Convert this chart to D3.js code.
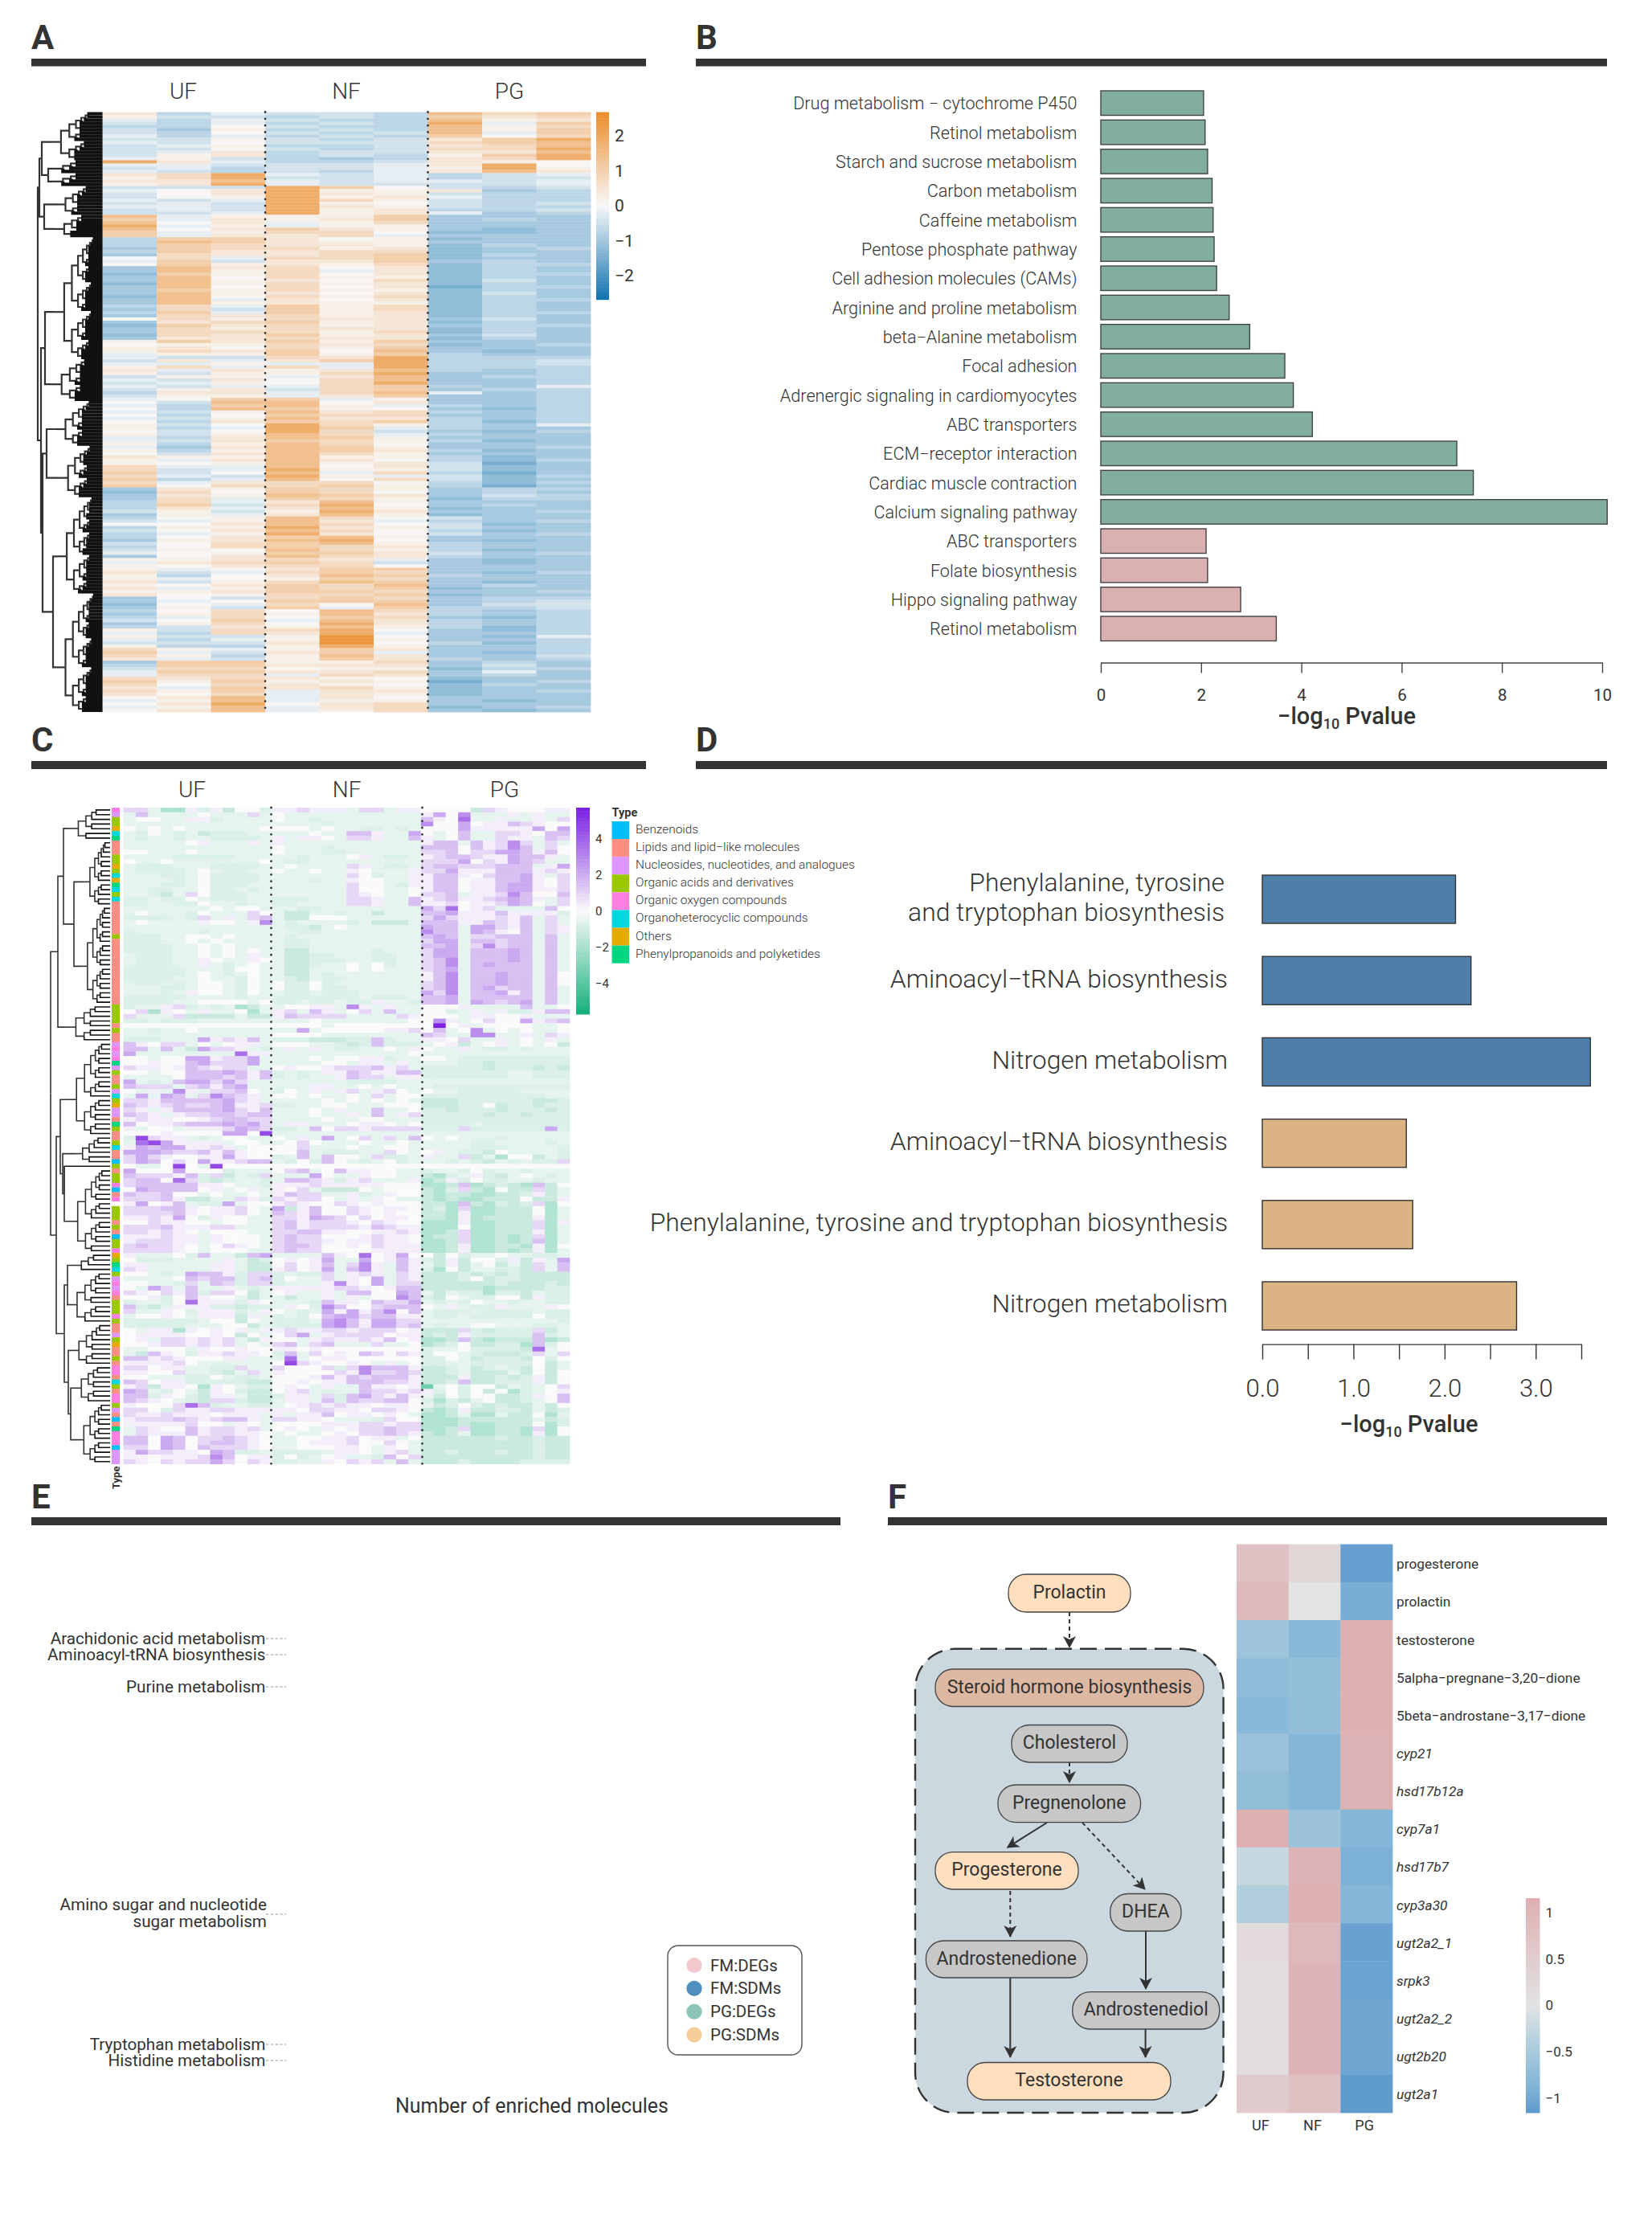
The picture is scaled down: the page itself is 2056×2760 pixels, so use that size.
<!DOCTYPE html>
<html>
<head>
<meta charset="utf-8">
<script src="https://d3js.org/d3.v7.min.js"></script>
<style>
  body { margin: 0; background: #fff; }
  text { font-family: Roboto, "Open Sans", sans-serif; fill: #333; }
</style>
</head>
<body>
<svg id="figure" width="2056" height="2760"></svg>
<script>
// ---- panel A: transcript heatmap, one string per row, one symbol per sample
const rnaGroups = ["UF", "NF", "PG"];
const rnaLevelKeys = ["f", "e", "d", "c", "b", "a", "0", "1", "2", "3", "4", "5", "6", "7"];
const rnaLevelValues = [-1.5, -1.2, -0.95, -0.7, -0.45, -0.2, 0.05, 0.2, 0.45, 0.75, 1.05, 1.4, 1.85, 2.4];
const rnaRows = `
2cabbc534 1bbcbc423 acabcc512 bcacbc6a4 cc0bcc513 bd1cbc514 bc0bcb5a4 acacbc403
bb1bcb246 ab0bbb345 ba1ccb235 bb0bcb336 ba2cbb225 b12cbc146 a1bcdc236 62accb210
aabbba260 bacbba161 abcbca252 236abacba 136bbacbb 225abaaba 126abbbba
bbb640bcb a026112dc b02621bcc b01612acc aba631bcc bab610bcb aab621bcc bab612ccb bba612adc
5a1114ddd 4a2124dcd 502a13ddd 6a1a11ddd 502421ded 4a1330eed 4a223addd
c44201edd c54211ddd c43221ecd d43312edc c42233edd d32234ecd 03a334edd a4b224dcd 041213ecc
d52302ecd d513a2ecd e41302ecc d50311ecd d51203ebd e51312ecd d50302fcc d41311ecd d51202ebd e50313ecd d5a202ecc d51211ecd
c3a413ecd d3b413ecd c4a412ecc
d32312ecd 031322dbd d23412ecd e42312dcc d31322ecd d33313ecd e32412dbd d22322ecd
142414ddd 011323edc 120314ddd 132405ded a11414cdd
abb326ccc b2a246ccb aa1aa6ccb 13a3a6ccc 2a2125cdc 1b1136ddc
b11a25dcc ab2035ddc ba1036ddc abaa34cda b12b34dcc c22a35adc b11a24ddc
a044a1ddc 0b5502ddc ac451acdc 0c5410dec
ab1523cdc 0c0433ddc ab1522cdc 0c2434cec
1b0631cda 1ca64acdd 0b063bdec 1b153acdd
ac2541ddd ab2431ced 1c1530ddd ad2541ddc 1c1542ced 0b2531ddd
211511ced 1a2520cec 101512bfd
3aa502bed 3ba611bed 4b05a3cfd 3ab61abec 4ca503bed
3a2330cec 403341cfd
d21431dcc e30430dcd d21542dbc d3a431ecc
c3a251ddd c4b360dcd c2a251edd b1b162ddc d1a251edd
c01530bdd ba152acdc 002530bed c11621bdd b02530ced ca1620bdc
c02451ddd d12560ded b03451cdd
c03432cdd b10531ced a01442bdc d02532cdd
11232aded a2343bded 102330ddd
1a0244ddd 2ba343dec 1c0254cdd 1a0143ddd 2b1354ded
102435dcd 2a1434edd 112443ddc 201334edd
d0b343dcc da0444dcb e0a305dbb d1b4a4ccb
c03053cdc d13152cdc ca3043dec b04a52cdc d13062cdc cb2151cec
1b3360dec ac326addc 1bb170dea aca171ddc bbb270cec 1cc161ddc
31a142ddc 4ab24adec 31c152ddb 2ab142cdc
d44113dcd c44222dbd b33011ecc a44223dad a33a32dcd
323210edd 414121fdc 303210ecd 2a4231edd 314a22edc 203a21edd
025a20ddd a15a11ded 026023ddd a15a23edc 025a13ded
`.trim().split(/\s+/);
const rnaScaleTicks = [-2, -1, 0, 1, 2];
// tree: [join position, child, child]; a bare number is a bunch of that many rows
const rnaTree = [47,
  [49,
    [52, [63, 15], [60, [66, 4], [66, 4]]],
    [55, [70, 9], [68, 7]]],
  [51,
    [56, [68, 38], [64, 13]],
    [53,
      [58, [70, 14], [74, 16]],
      [66, [72, 30], [70, 37]]]]];

// ---- panel B
const pathwaysB = ["Drug metabolism − cytochrome P450", "Retinol metabolism", "Starch and sucrose metabolism",
  "Carbon metabolism", "Caffeine metabolism", "Pentose phosphate pathway", "Cell adhesion molecules (CAMs)",
  "Arginine and proline metabolism", "beta−Alanine metabolism", "Focal adhesion",
  "Adrenergic signaling in cardiomyocytes", "ABC transporters", "ECM−receptor interaction",
  "Cardiac muscle contraction", "Calcium signaling pathway", "ABC transporters", "Folate biosynthesis",
  "Hippo signaling pathway", "Retinol metabolism"];
const pvaluesB = [2.05, 2.08, 2.13, 2.22, 2.24, 2.26, 2.31, 2.56, 2.97, 3.67, 3.84, 4.22, 7.10, 7.43, 10.10, 2.10, 2.13, 2.79, 3.50];
const tealBarsB = 15;
const ticksB = [0, 2, 4, 6, 8, 10];

// ---- panel C: metabolite heatmap, 12 samples per group
const metaboliteGroups = ["UF", "NF", "PG"];
const metaLevelKeys = ["f", "e", "d", "c", "b", "a", "0", "1", "2", "3", "4", "5", "6", "7", "8"];
const metaLevelValues = [-3.4, -2.6, -1.8, -1.2, -0.8, -0.5, 0, 0.3, 0.9, 1.5, 2.1, 2.8, 3.6, 4.6, 5.6];
const metaRows = `
22add1b1c00b112111a22a110000c2100011 a3aaaa0aaa2a0aaaaaaaaaaa1405aaa1a1aa a00aa11baaaa0aabaaaaaaaa3106aa1aa1a2
aaaaaaaaaaaaaaaabaaaaaaa500401132100 0a0a0aaaaaa0000a0aabbaba000411111404 ab0abacbbbaaaaa0aa331aa40a03aa221033
abaabaabbbba1a110a221aa31a03aa211a32 aaaaa01aaa1a1aaaaaaaaaaa133a31252a2a aaaaaaaaaaaa0aaabaaaaaaa333031253a20
00aaa0aaaaaa0aaabbaaaaaa223022443130 aaaabbbbbaaaaabaaa01abba12332114331a 0aa0aaaaaaa0abbaaaaaaaaa2224021432aa
abbbaaabbbbaa0aaaa21abba233222333a14 abbbba0abbaa0aa0aa10aaa1224111333121 aaabba0bbbbaaaaaaa20baa11331023341a2
aaaaba0bbbbaaaabaa100aa1133011334102 aaabba0bbbaaaaaaaa200ab1133011344102 aabbaa0bbabaaaaaaa200aa0133011344112
aabca20bbbaaaaaaaa210aa0223a11253003 bbabb0abbbaabbbaaa221aa31231123431a2 bbaabb0aabaabbaaaa221aa31120112430a2
aaaaaaa0a00aaabbaaaaaaaa426012aaaa30 a0aaab0aaa20accaabaacaaa33411131111b bbbbab2a1a23acc000aaaaaa242111213a2a
a0aaaa100a15abaaaabaccca333113213a2a aaaaaaaaaaaaabbca0aaaaaa433a44213a21 baaaaabaaaaaaabbaaaaaaaa533a43103a21
bbbaa00a0aaaabaaaaaaaaaa343a22333a3a bbbaa0a0aaaaabbaaaaaaaaa244a33233a3a bbbbaa0a0aaaabbaaaaaaaaa334a25233a3a
bbbbaa0a0a0aaccaaaaabaaa244a33343a3a abbbaa0a0a1aaccbbaaabbaa244a33343a3a abbbaa10aa10accbbbaabbaa235a33343a3a
abbbaa1aba0aaccbaa0a0baa235a34333a3a bbbbbaaab00aaccaaa0a0aaa234a33333a3a bbbbba0aba0aaccabaaaaaaa135a33433a30
bbbbaa0aab0aabcabbaaaaaa135a33433a30 abbaba00ab0a0bb0baaaaaaa235a33433a30 aaabba00ab0a0bb0bbaaaaaa235a34233a3a
aaaba100ab0aabbabbbaaaaa425a33413a3a bbbbbaaaabaabbbbbbbabbba334a33333a3a bbbbaa0000a0bbabbabb1aab334a43234a3a
baa12babadcaa0011a51a1aa0001aaaa3aa0 02d10a1aa0da12a31a02a3aa00ba1a1bb133 2aaa2ccccacc132222aaaa21000a11001aaa
bbabbbaaaaaaaaa0aaaaaaa0051a02004123 0000000000000000a00000000801a0000aa0 aabaa0aaaaaaaa4a0000011203a05a0a0aa0
aaaaaaaaaaaa0000aaaaaaaa32aa55aa1a21 bbbaaa41213abbbcccbb3baa1102aa1a0a1a 31022a0a011a000aabcb3bbba01ca01a0a0c
33a3ac4221aba1a1abbaa0a10aa1abbabaaa 4aaaaaaaa611aaaaaaaaaaa0aaaaaaaaaaaa 00a00441224aaaa0a0011baa00abbbbbbbbb
00100342224aaaaa00a11a1aaaabbcbbbbbb 2110132122aa01001222312abbbbbcbbbcbc 00a003334313baba11321133bbbbbbbaabbb
aaaa03332313babaa1322a11bbbbbbbaabbb 4aba344242aaaaaaaabbbbaaaaaaaaaaaaaa 3222a23134aaaaa11aa0a0aaabbbbbbbbbbb
0a1a51a2230ab0a1a12a120a0aabbbbbaaaa a4a43a25321a00a0aa0a2a00bbbbbbbbbbaa 22133333421aaaaa0a0a0a0acccbbbbbbccb
321232234112bbaa00aaa000cccbb0cbbcbb 21a133334213aaa0a1aa3aa0bbcbbbcbbbcb 321a12233233aaa0aa1a3a12bbbbbcbbcbbb
121100123322aaaa0aa00aaabbbbbbbbbbbb 301123334342a11aaa0110a0bbbbabbbbbbb 1a00a1112432bba302212222bbb2bbbbbb4b
000100004407aaaaaaaaaaaaaaaaaaaaaaaa b7211aba00aa0a1a4a02a2a30a0aaabaaaaa a6741111a00aa020aaa0aa0aaaaabbaaaaba
143441121a00002aaa0aa00aaaaabbbaaaab 444322313100003abbbaa20a01abbc0aaaab 242100114100ba3a300a2bba1aa2cad00cab
243020411233ab0b30aba0baaababcababb2 0aa070a70000000000000000000000000000 40004000baaa023a031100aabaab0baabaaa
322213b2cab2aaa40aa100aacdba1bca0aba 233062bcbaaba3321b12aaa1dc1b0bbaabaa 233333110aab111211111000ddc3dcbcd3c0
04333301a01a102accc0a000cdb2cd0cc2ca 322300a0aa0a1322aa1ba100cdccddccb1ca 22231ccaa21b21220a1a10aacdcddccc0cc1
14013abb4a00121002101000ccd3cdbcb2d0 22233101120a4c1300210110cbd2ddccc0da 22223101120a321300210100ccd1ddccc0da
112140b100aa221432020110ccd1dcccc1da 0021100a00aa231222102100ddd1ddccc2d1 222311122aaa231222213211ddd0ddccc2da
221210a000aa223311001121ddc2ddccc1da 111211a1000a232200012110dcc2ddcdc2da 122211a1000a232210112110ddc2ddcdc3da
232210a0210a233200102111ddc1ddccd1d0 222210a000aa232200001111ddc1ddcdc1da 1aaa0b3aac34aaaa31060140 0c0baa0aabba
0bbbaaaa1acb01014aa40131bc1c00b1c1a4 11aaaaa11acc02013a251a31ac1ca0cac2a3 21aaaaa11acc12014a351a31bd0caabbc2a3
00aba4331b22babb2a121a21cccbcbcbcccc aaaa03233b23b0aa2a104a21cccb0cbbcccc 00aab2a32b22baaa15104a22ccccccbcccbc
0a42a3aa1aba111112210133cccccdccccbb 210213b220ca01aa1a330043acabbdbbcabb 001b03100acaacaa1a1a0053bc0abb00c1bb
baab06111b10aaab31103224abab0aabaabb 3bca111bbcbba10b530023330a1abb1aaa10 2aa10b111ba10aba41413503abbbabbbbabb
a0010a111c1abab034423311abbabbbbb0bb bbbbbba00c0abbba45314422aaaaaaaaaaab bbbbbaaa00cabbbb45314423abaa00aaabba
0a11d10101a1121122122201ccc2bcbbb2ca 011110010c0a024a12222011cbc1bbbbb3ba 01a221212ac100a121121301ddc3cdccc3dc
001221212a0a23a23aaa2aa0dcb0ccbbd3b0 aa000a100100110100000000baa0bbbbc6a0 ac310b112110b3a201032021b00abcccb2a2
3312100011aaa6a011000000bb0acbbbc0b0 111120aaaaaa07210010a1a0bbaabbbbb0ca 22011aabb2aa20002b253331ccbacbabc0ca
11002aabca2a100002152232ccbacccac0c0 00aaabb0abba000131323331ccc1ccbcb1c0 32011bbbbbcc001011333221ccb3ccbbb1c0
12c110d10abb010a1aa31101fa0b00caba02 43ab0ac10bcc012abaa322121b0b0c0dba01 33b10bc11accb11a2b342131ac0b00ccb103
3210abc22bcca11a3b322330bdbca0ccba03 1000263baabba01212110110acb0bcbccac0 220b21122111110221102210cdc1ccbbcacb
21121110111a1a113011010addcaddacc0da 12223212331a22110aaab200dddccccccacb
11111200a10a000011122122dddcddccc0db a2100312212a010a10122322ddc2ddccd2d0 a21113122110a0aa01022321cdcaddccd1d0
330430223210aa00112011a0ccccccbccbcc 330430233210aa011120020acccccccccbcc 220430322210aa000110a10acccccccccbcc
142211043bbabbbba110a12accbcccbccbcc 110111253011b0ba01aab302cccccccccbcc 210212242021bbaa10212a3acccbccccbbbb
`.trim().split(/\s+/);
const metaTypeKeys = ["B", "L", "N", "A", "O", "H", "X", "P"];
const metaTypeNames = ["Benzenoids", "Lipids and lipid−like molecules", "Nucleosides, nucleotides, and analogues",
  "Organic acids and derivatives", "Organic oxygen compounds", "Organoheterocyclic compounds", "Others",
  "Phenylpropanoids and polyketides"];
const metaTypeColors = ["#00BEFF", "#FF8E82", "#DD96FF", "#99C800", "#FF7FE0", "#00D8E0", "#E6AB00", "#00D580"];
const rowTypes = ("O N AA X H P LLL AA X A H X P H A H LLLLLLL A LLLLLLLLLLLLLL AAAA L A LL N O N O P N A LL A N H A X NN " +
  "L P A LL A H LL B A L AA O B L O - AAA L A L B AA O X A P H A N O N O L AAA O A LL N A X LL A L OO L H A L OO A N L B L P OOO B NNN").replace(/ /g, "");
const metaScaleTicks = [-4, -2, 0, 2, 4];
const metaTree = [63,
  [72,
    [79, [85, 7], [92, [104, 14], [100, 21]]],
    [81, 8]],
  [70,
    [75,
      [82, 20],
      [78, [92, 6], [80, 1, [84, 18]]]],
    [80,
      [84, [90, 4], [83, 11]],
      [85, [86, 9], [88, [90, 8], [94, 13]]]]]];

// ---- panel D
const pathwaysD = [["Phenylalanine, tyrosine", "and tryptophan biosynthesis"], ["Aminoacyl−tRNA biosynthesis"], ["Nitrogen metabolism"],
  ["Aminoacyl−tRNA biosynthesis"], ["Phenylalanine, tyrosine and tryptophan biosynthesis"], ["Nitrogen metabolism"]];
const pvaluesD = [2.12, 2.29, 3.60, 1.58, 1.65, 2.79];
const blueBarsD = 3;
const ticksD = [0, 0.5, 1, 1.5, 2, 2.5, 3, 3.5];

// ---- panel E (only the labels and the legend are left of this one)
const sankeyLabels = ["Arachidonic acid metabolism", "Aminoacyl-tRNA biosynthesis", "Purine metabolism",
  "Tryptophan metabolism", "Histidine metabolism"];
const sankeyLabelY = [2039, 2059, 2099, 2544, 2564];
const legendE = ["FM:DEGs", "FM:SDMs", "PG:DEGs", "PG:SDMs"];
const legendColorsE = ["#F3C9CE", "#4F8FBF", "#8CC5B5", "#F5CB97"];

// ---- panel F
const hormoneGenes = ["progesterone", "prolactin", "testosterone", "5alpha−pregnane−3,20−dione", "5beta−androstane−3,17−dione",
  "cyp21", "hsd17b12a", "cyp7a1", "hsd17b7", "cyp3a30", "ugt2a2_1", "srpk3", "ugt2a2_2", "ugt2b20", "ugt2a1"];
const hormoneGroups = ["UF", "NF", "PG"];
const hormoneUF = [0.75, 0.95, -0.6, -0.75, -0.8, -0.65, -0.72, 1.15, -0.25, -0.42, 0.2, 0.1, 0.12, 0.12, 0.55];
const hormoneNF = [0.3, 0.0, -0.8, -0.7, -0.72, -0.85, -0.85, -0.62, 1.1, 1.15, 0.95, 1.05, 1.08, 1.08, 0.75];
const hormonePG = [-1.1, -0.95, 1.15, 1.15, 1.15, 1.12, 1.12, -0.85, -0.92, -0.85, -1.08, -1.05, -1.02, -1.02, -1.15];
const hormoneScaleTicks = [-1, -0.5, 0, 0.5, 1];
const firstItalicGene = 5;

var svg = d3.select("#figure");

// panel letters and the dark rule under each one
var panels = [
  {name: "A", x1: 39, x2: 804, y: 73, h: 9.5, base: 61},
  {name: "B", x1: 866, x2: 2000, y: 73, h: 9.5, base: 61},
  {name: "C", x1: 39, x2: 804, y: 947, h: 10, base: 935},
  {name: "D", x1: 866, x2: 2000, y: 947, h: 10, base: 935},
  {name: "E", x1: 39, x2: 1046, y: 1888, h: 10, base: 1877},
  {name: "F", x1: 1105, x2: 2000, y: 1888, h: 10, base: 1877}
];
svg.selectAll(".rule").data(panels).enter().append("rect")
  .attr("class", "rule")
  .attr("x", d => d.x1).attr("y", d => d.y)
  .attr("width", d => d.x2 - d.x1).attr("height", d => d.h)
  .attr("fill", "#333");
svg.selectAll(".letter").data(panels).enter().append("text")
  .attr("class", "letter")
  .attr("x", d => d.x1).attr("y", d => d.base)
  .style("font-size", "42px").style("font-weight", 700)
  .text(d => d.name);

// turn [pos, child, child] into a d3 hierarchy, bare numbers become small combs
function buildTree(spec, leafX, step) {
  function comb(n, x) {
    if (n == 1) return {x: leafX};
    var nextX = x + (leafX - x) * step;
    var top = Math.min(n - 1, Math.ceil(n * 0.6));
    return {x: x, children: [comb(top, nextX), comb(n - top, nextX)]};
  }
  function walk(s, parentX) {
    if (typeof s == "number") {
      if (s == 1) return {x: leafX};
      return comb(s, parentX + (leafX - parentX) * step);
    }
    return {x: s[0], children: s.slice(1).map(c => walk(c, s[0]))};
  }
  return d3.hierarchy(walk(spec, spec[0]));
}

function drawTree(spec, rowScale, leafX, step, lineWidth, leafWidth) {
  var root = buildTree(spec, leafX, step);
  var i = 0;
  root.leaves().forEach(l => { l.y = rowScale(i) + rowScale.bandwidth() / 2; i++; });
  root.eachAfter(n => { if (n.children) n.y = d3.mean([n.children[0].y, n.children[n.children.length - 1].y]); });
  var g = svg.append("g").attr("fill", "none").attr("stroke", "#333");
  g.selectAll("path").data(root.links()).enter().append("path")
    .attr("d", l => "M" + l.source.data.x + "," + l.source.y + "V" + l.target.y + "H" + l.target.data.x)
    .attr("stroke-width", l => l.target.children ? lineWidth : leafWidth)
    .attr("stroke", l => l.target.children ? "#333" : "#111");
}

function drawColorbar(scale, x, w, top, bottom, ticks, fontSize) {
  var y = d3.scaleLinear().domain(scale.barDomain).range([bottom, top]);
  var g = svg.append("g");
  var steps = d3.range(60);
  var sliceH = (bottom - top) / steps.length;
  g.selectAll("rect").data(steps).enter().append("rect")
    .attr("x", x).attr("width", w)
    .attr("y", i => top + i * sliceH).attr("height", sliceH + 0.5)
    .attr("fill", i => scale(y.invert(top + (i + 0.5) * sliceH)));
  var axis = d3.axisRight(y).tickValues(ticks).tickSize(0).tickPadding(0).tickFormat(d3.format("~g"));
  var a = g.append("g").attr("transform", "translate(" + (x + w + 7) + ",0)").call(axis);
  a.select(".domain").remove();
  a.selectAll("text").style("font-size", fontSize + "px").style("font-family", "Roboto").attr("fill", "#333");
}

function drawDots(x, y1, y2) {
  svg.append("line").attr("x1", x).attr("x2", x).attr("y1", y1).attr("y2", y2)
    .attr("stroke", "#333").attr("stroke-width", 2.8)
    .attr("stroke-linecap", "round").attr("stroke-dasharray", "0 8.33");
}

function drawCells(rows, keys, vals, xScale, yScale, color) {
  var lookup = d3.scaleOrdinal().domain(keys).range(vals);
  var cells = [];
  rows.forEach((r, i) => r.split("").forEach((c, j) => cells.push({row: i, col: j, v: lookup(c)})));
  svg.append("g").selectAll("rect").data(cells).enter().append("rect")
    .attr("x", d => xScale(d.col)).attr("y", d => yScale(d.row))
    .attr("width", xScale.bandwidth() + 0.4).attr("height", yScale.bandwidth() + 0.4)
    .attr("fill", d => color(d.v));
}

function groupTitles(names, xs, y) {
  names.forEach((n, i) => {
    svg.append("text").attr("x", xs[i]).attr("y", y)
      .attr("text-anchor", "middle").attr("dominant-baseline", "central")
      .style("font-size", "28px").style("font-weight", 300).text(n);
  });
}

// ------------------------ A
var rnaX = d3.scaleBand().domain(d3.range(9)).range([127.6, 735]);
var rnaY = d3.scaleBand().domain(d3.range(rnaRows.length)).range([139.5, 886]);
var rnaColor = d3.scaleLinear().domain([-2.6, -1, 0, 1, 2.6])
  .range(["#1676B0", "#A3C7DF", "#F8F8F8", "#F3D0AE", "#EB8F2E"]);
rnaColor.barDomain = [-2.68, 2.68];
drawCells(rnaRows, rnaLevelKeys, rnaLevelValues, rnaX, rnaY, rnaColor);
drawTree(rnaTree, rnaY, 127.6, 0.2, 2.2, 4.2);
groupTitles(rnaGroups, [228, 431, 634], 113);
drawDots(rnaX(3), 139.5, 886);
drawDots(rnaX(6), 139.5, 886);
drawColorbar(rnaColor, 742, 16, 139.5, 372.7, rnaScaleTicks, 21);

// ------------------------ B
var xB = d3.scaleLinear().domain([0, 10]).range([1370, 1994]);
var yB = d3.scaleBand().domain(d3.range(pathwaysB.length)).range([113, 797.5]).paddingInner(0.16);
svg.append("g").selectAll("rect").data(pvaluesB).enter().append("rect")
  .attr("x", xB(0)).attr("y", (d, i) => yB(i))
  .attr("width", d => xB(d) - xB(0)).attr("height", yB.bandwidth())
  .attr("fill", (d, i) => i < tealBarsB ? "#82AEA1" : "#DBB0B1")
  .attr("stroke", "#444").attr("stroke-width", 1.4);
svg.append("g").selectAll("text").data(pathwaysB).enter().append("text")
  .attr("x", 1340.5).attr("y", (d, i) => yB(i) + yB.bandwidth() / 2 + 0.5)
  .attr("text-anchor", "end").attr("dominant-baseline", "central")
  .style("font-size", "21.6px").style("font-weight", 300).text(d => d);
var axisB = svg.append("g").attr("transform", "translate(0,824.5)")
  .call(d3.axisBottom(xB).tickValues(ticksB).tickSize(13).tickSizeOuter(0).tickPadding(20));
axisB.selectAll("text").style("font-size", "20.5px").style("font-family", "Roboto");
axisB.selectAll("path,line").attr("stroke", "#444").attr("stroke-width", 1.4);

function logTitle(x, y, size) {
  var t = svg.append("text").attr("x", x).attr("y", y)
    .attr("text-anchor", "middle").attr("dominant-baseline", "central")
    .style("font-size", size + "px").style("font-weight", 500);
  t.append("tspan").text("−log");
  t.append("tspan").attr("dy", size * 0.3).style("font-size", size * 0.62 + "px").text("10");
  t.append("tspan").attr("dy", -size * 0.3).text(" Pvalue");
}
logTitle(1676, 891, 29);

// ------------------------ C
var metaX = d3.scaleBand().domain(d3.range(36)).range([153.5, 709]);
var metaY = d3.scaleBand().domain(d3.range(rowTypes.length)).range([1005, 1821.7]);
var metaColor = d3.scaleLinear().domain([-5.7, 0, 5.7]).range(["#14B07A", "#FAFAFA", "#7A1FE0"]);
metaColor.barDomain = [-5.7, 5.7];
drawCells(metaRows.join("").match(/.{36}/g), metaLevelKeys, metaLevelValues, metaX, metaY, metaColor);
drawTree(metaTree, metaY, 137, 0.24, 1.6, 1.6);
var typeColor = d3.scaleOrdinal().domain(metaTypeKeys).range(metaTypeColors).unknown("#fff");
svg.append("g").selectAll("rect").data(rowTypes.split("")).enter().append("rect")
  .attr("x", 139).attr("width", 10)
  .attr("y", (d, i) => metaY(i)).attr("height", metaY.bandwidth() + 0.4)
  .attr("fill", d => typeColor(d));
svg.append("text").attr("transform", "translate(149,1853) rotate(-90)")
  .style("font-size", "13px").style("font-weight", 700).text("Type");
groupTitles(metaboliteGroups, [239, 431.6, 628], 982);
drawDots(337.5, 1005, 1825);
drawDots(525.5, 1005, 1825);
drawColorbar(metaColor, 717, 17, 1005, 1262, metaScaleTicks, 15);

var legendY = d3.scaleBand().domain(d3.range(metaTypeNames.length)).range([1022, 1198.7]);
svg.append("text").attr("x", 761.5).attr("y", 1011).attr("dominant-baseline", "central")
  .style("font-size", "14.5px").style("font-weight", 700).text("Type");
svg.append("g").selectAll("rect").data(metaTypeNames).enter().append("rect")
  .attr("x", 761.5).attr("width", 21.5)
  .attr("y", (d, i) => legendY(i)).attr("height", legendY.bandwidth())
  .attr("fill", (d, i) => metaTypeColors[i]);
svg.append("g").selectAll("text").data(metaTypeNames).enter().append("text")
  .attr("x", 791).attr("y", (d, i) => legendY(i) + legendY.bandwidth() / 2 - 1)
  .attr("dominant-baseline", "central").style("font-size", "15.4px").style("font-weight", 300).text(d => d);

// ------------------------ D
var xD = d3.scaleLinear().domain([0, 3.5]).range([1571, 1968]);
var yD = d3.scaleBand().domain(d3.range(pathwaysD.length)).range([1089, 1655]).paddingInner(0.407);
svg.append("g").selectAll("rect").data(pvaluesD).enter().append("rect")
  .attr("x", xD(0)).attr("y", (d, i) => yD(i))
  .attr("width", d => xD(d) - xD(0)).attr("height", yD.bandwidth())
  .attr("fill", (d, i) => i < blueBarsD ? "#4F7FA8" : "#DCB382")
  .attr("stroke", "#333").attr("stroke-width", 1.4);
pathwaysD.forEach((lines, i) => {
  var mid = yD(i) + yD.bandwidth() / 2 - 2.5;
  lines.forEach((line, k) => {
    svg.append("text")
      .attr("x", lines.length > 1 ? 1524 : 1528)
      .attr("y", mid + (k - (lines.length - 1) / 2) * 37)
      .attr("text-anchor", "end").attr("dominant-baseline", "central")
      .style("font-size", "31.8px").style("font-weight", 300).text(line);
  });
});
var axisD = svg.append("g").attr("transform", "translate(0,1672.6)")
  .call(d3.axisBottom(xD).tickValues(ticksD).tickSize(19).tickSizeOuter(0).tickPadding(24)
    .tickFormat(d => d % 1 == 0 ? d3.format(".1f")(d) : ""));
axisD.selectAll("text").style("font-size", "31px").style("font-family", "Roboto").style("font-weight", 300);
axisD.selectAll("path,line").attr("stroke", "#333").attr("stroke-width", 1.4);
logTitle(1753.5, 1772, 29);

// ------------------------ E
function sankeyTick(y) {
  svg.append("line").attr("x1", 331).attr("x2", 356).attr("y1", y).attr("y2", y)
    .attr("stroke", "#999").attr("stroke-width", 1.2).attr("stroke-dasharray", "3.4 2.4");
}
sankeyLabels.forEach((name, i) => {
  svg.append("text").attr("x", 330.5).attr("y", sankeyLabelY[i])
    .attr("text-anchor", "end").attr("dominant-baseline", "central")
    .style("font-size", "20.7px").text(name);
  sankeyTick(sankeyLabelY[i]);
});
["Amino sugar and nucleotide", "sugar metabolism"].forEach((line, k) => {
  svg.append("text").attr("x", 332).attr("y", 2370 + k * 21)
    .attr("text-anchor", "end").attr("dominant-baseline", "central")
    .style("font-size", "20.7px").text(line);
});
sankeyTick(2382);
svg.append("rect").attr("x", 831).attr("y", 2421).attr("width", 167).attr("height", 136)
  .attr("rx", 13).attr("fill", "#fff").attr("stroke", "#555").attr("stroke-width", 1.4);
var legendRowsE = d3.scalePoint().domain(legendE).range([2445.5, 2532]);
svg.append("g").selectAll("circle").data(legendE).enter().append("circle")
  .attr("cx", 864).attr("cy", d => legendRowsE(d)).attr("r", 9.6)
  .attr("fill", (d, i) => legendColorsE[i]);
svg.append("g").selectAll("text").data(legendE).enter().append("text")
  .attr("x", 884).attr("y", d => legendRowsE(d)).attr("dominant-baseline", "central")
  .style("font-size", "20.5px").text(d => d);
svg.append("text").attr("x", 662).attr("y", 2620.5)
  .attr("text-anchor", "middle").attr("dominant-baseline", "central")
  .style("font-size", "24.9px").text("Number of enriched molecules");

// ------------------------ F, pathway sketch (page positions of the boxes)
var defs = svg.append("defs");
defs.append("marker").attr("id", "arrowHead")
  .attr("viewBox", "-16 -9 18 18").attr("refX", 0).attr("refY", 0)
  .attr("markerWidth", 18).attr("markerHeight", 18).attr("markerUnits", "userSpaceOnUse")
  .attr("orient", "auto")
  .append("path").attr("d", "M1,0L-14,-8L-10,0L-14,8Z").attr("fill", "#333");

svg.append("rect").attr("x", 1139).attr("y", 2051.7).attr("width", 383.6).attr("height", 577.3)
  .attr("rx", 50).attr("fill", "#CBD8E0").attr("stroke", "#333").attr("stroke-width", 2.4)
  .attr("stroke-dasharray", "21 10");

var peach = "#FFDFBE", grey = "#C7C7C7";
var sketchBoxes = [
  {t: "Prolactin", x1: 1255, x2: 1407, y1: 1959, y2: 2006, c: peach},
  {t: "Steroid hormone biosynthesis", x1: 1164, x2: 1498, y1: 2077, y2: 2123.5, c: "#DDB9A4"},
  {t: "Cholesterol", x1: 1259, x2: 1403, y1: 2146.5, y2: 2193, c: grey},
  {t: "Pregnenolone", x1: 1242, x2: 1419.5, y1: 2221, y2: 2267.6, c: grey},
  {t: "Progesterone", x1: 1164, x2: 1342, y1: 2304.6, y2: 2351, c: peach},
  {t: "DHEA", x1: 1381.7, x2: 1470, y1: 2356.5, y2: 2403, c: grey},
  {t: "Androstenedione", x1: 1152.4, x2: 1353, y1: 2415, y2: 2461, c: grey},
  {t: "Androstenediol", x1: 1334.8, x2: 1517.7, y1: 2478.6, y2: 2525, c: grey},
  {t: "Testosterone", x1: 1204, x2: 1457, y1: 2566.5, y2: 2613, c: peach}
];
var sketchArrows = [
  {x1: 1331, y1: 2006, x2: 1331, y2: 2050, dash: true},
  {x1: 1331, y1: 2193, x2: 1331, y2: 2218, dash: true},
  {x1: 1303, y1: 2268, x2: 1253.7, y2: 2299, dash: false},
  {x1: 1347, y1: 2268, x2: 1425, y2: 2351, dash: true},
  {x1: 1257.3, y1: 2353, x2: 1257.3, y2: 2410, dash: true},
  {x1: 1426, y1: 2403, x2: 1426, y2: 2475, dash: false},
  {x1: 1257.3, y1: 2461, x2: 1257.3, y2: 2560, dash: false},
  {x1: 1425.6, y1: 2525, x2: 1425.6, y2: 2560, dash: false}
];
svg.append("g").selectAll("line").data(sketchArrows).enter().append("line")
  .attr("x1", d => d.x1).attr("y1", d => d.y1).attr("x2", d => d.x2).attr("y2", d => d.y2)
  .attr("stroke", "#333").attr("stroke-width", 2)
  .attr("stroke-dasharray", d => d.dash ? "5 4" : null)
  .attr("marker-end", "url(#arrowHead)");
var boxes = svg.append("g").selectAll("g").data(sketchBoxes).enter().append("g");
boxes.append("rect")
  .attr("x", d => d.x1).attr("y", d => d.y1)
  .attr("width", d => d.x2 - d.x1).attr("height", d => d.y2 - d.y1)
  .attr("rx", 22).attr("fill", d => d.c).attr("stroke", "#444").attr("stroke-width", 1.3);
boxes.append("text")
  .attr("x", d => (d.x1 + d.x2) / 2).attr("y", d => (d.y1 + d.y2) / 2 - 1)
  .attr("text-anchor", "middle").attr("dominant-baseline", "central")
  .style("font-size", "23px").text(d => d.t);

// ------------------------ F, heatmap
var xF = d3.scaleBand().domain(hormoneGroups).range([1539, 1733]);
var yF = d3.scaleBand().domain(hormoneGenes).range([1921.6, 2629]);
var colorF = d3.scaleLinear().domain([-1.16, -0.85, -0.5, 0, 0.5, 1.16])
  .range(["#5F9ACD", "#84B6D7", "#A8CADC", "#E3E3E3", "#E0CCCE", "#DDB0B2"]);
colorF.barDomain = [-1.16, 1.16];
[hormoneUF, hormoneNF, hormonePG].forEach((col, j) => {
  svg.append("g").selectAll("rect").data(col).enter().append("rect")
    .attr("x", xF(hormoneGroups[j])).attr("width", xF.bandwidth() + 0.4)
    .attr("y", (d, i) => yF(hormoneGenes[i])).attr("height", yF.bandwidth() + 0.4)
    .attr("fill", d => colorF(d));
});
svg.append("g").selectAll("text").data(hormoneGenes).enter().append("text")
  .attr("x", 1738).attr("y", d => yF(d) + yF.bandwidth() / 2 + 1)
  .attr("dominant-baseline", "central")
  .style("font-size", "17.3px")
  .style("font-style", (d, i) => i >= firstItalicGene ? "italic" : "normal")
  .text(d => d);
svg.append("g").selectAll("text").data(hormoneGroups).enter().append("text")
  .attr("x", d => xF(d) + xF.bandwidth() / 2 - 2.5).attr("y", 2644)
  .attr("text-anchor", "middle").attr("dominant-baseline", "central")
  .style("font-size", "18px").text(d => d);
drawColorbar(colorF, 1899, 17.5, 2362, 2629, hormoneScaleTicks, 17);
</script>
</body>
</html>
